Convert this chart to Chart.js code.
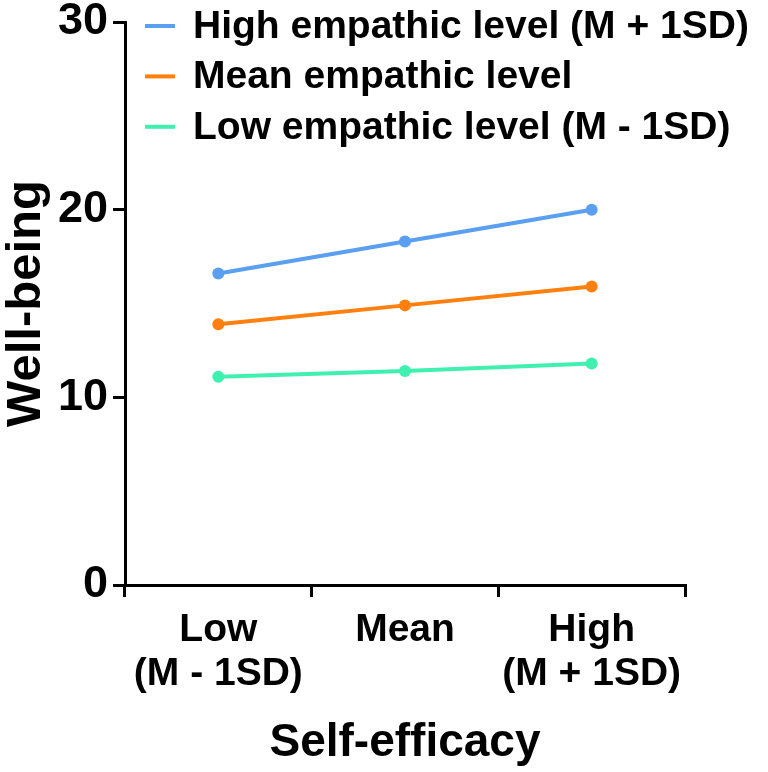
<!DOCTYPE html>
<html>
<head>
<meta charset="utf-8">
<script src="https://cdn.jsdelivr.net/npm/chart.js@4.4.0/dist/chart.umd.min.js"></script>
<style>
html, body { margin: 0; padding: 0; background: #fff; }
#wrap { width: 768px; height: 772px; }
</style>
</head>
<body>
<div id="wrap"><canvas id="wellbeingChart"></canvas></div>
<script>
// self-efficacy levels on the x axis
let categories = [["Low", "(M - 1SD)"], ["Mean"], ["High", "(M + 1SD)"]];
let seriesNames = ["High empathic level (M + 1SD)", "Mean empathic level", "Low empathic level (M - 1SD)"];
let highEmpathy = [16.6, 18.3, 20.0];
let meanEmpathy = [13.9, 14.9, 15.9];
let lowEmpathy = [11.1, 11.4, 11.8];
let yTicks = [0, 10, 20, 30];

let colors = ["#5a9ff0", "#ff800e", "#3ff0b0"];
let fontFamily = "'Liberation Sans', Arial, sans-serif";

function makeSet(i, values) {
    return {
        label: seriesNames[i],
        data: values,
        borderColor: colors[i],
        backgroundColor: colors[i],
        borderWidth: 4,
        pointRadius: 6,
        pointHoverRadius: 6,
        pointBorderWidth: 0,
        fill: false,
        tension: 0,
    };
}

let chartData = {
    labels: categories,
    datasets: [
        makeSet(0, highEmpathy),
        makeSet(1, meanEmpathy),
        makeSet(2, lowEmpathy),
    ],
};

// legend drawn inside the plot, top right, one row per series
let insideLegend = {
    id: "insideLegend",
    afterDraw(chart) {
        let ctx = chart.ctx;
        ctx.save();
        ctx.font = "bold 39px " + fontFamily;
        ctx.textBaseline = "middle";
        ctx.textAlign = "left";
        chart.data.datasets.forEach(function(ds, i) {
            let y = 26 + i * 50.4;
            ctx.strokeStyle = ds.borderColor;
            ctx.lineWidth = 4;
            ctx.beginPath();
            ctx.moveTo(145, y);
            ctx.lineTo(175, y);
            ctx.stroke();
            ctx.fillStyle = "#000";
            ctx.fillText(ds.label, 193, y + 1);
        });
        ctx.restore();
    },
};

let chartOptions = {
    responsive: true,
    maintainAspectRatio: false,
    animation: false,
    layout: {
        padding: { top: 22, right: 83, left: 0, bottom: 0 },
    },
    plugins: {
        legend: { display: false },
        tooltip: { enabled: false },
    },
    scales: {
        x: {
            type: "category",
            offset: true,
            afterFit: function(scale) {
                scale.height = 187;
                scale.paddingLeft = 0;
                scale.paddingRight = 0;
            },
            grid: {
                offset: true,
                drawOnChartArea: false,
                drawTicks: true,
                tickLength: 12,
                color: "#000",
                lineWidth: 3,
            },
            border: { color: "#000", width: 3 },
            ticks: {
                color: "#000",
                padding: 11,
                maxRotation: 0,
                autoSkip: false,
                font: { family: fontFamily, weight: "bold", size: 39, lineHeight: 1.13 },
            },
            title: {
                display: true,
                text: "Self-efficacy",
                color: "#000",
                padding: { top: 0, bottom: 1 },
                font: { family: fontFamily, weight: "bold", size: 46 },
            },
        },
        y: {
            min: 0,
            max: 30,
            afterFit: function(scale) {
                scale.width = 125;
                scale.paddingTop = 0;
                scale.paddingBottom = 0;
            },
            afterBuildTicks: function(scale) {
                scale.ticks = yTicks.map(function(v) {
                    return { value: v };
                });
            },
            grid: {
                drawOnChartArea: false,
                drawTicks: true,
                tickLength: 12,
                color: "#000",
                lineWidth: 3,
            },
            border: { color: "#000", width: 3 },
            ticks: {
                color: "#000",
                padding: 5,
                font: { family: fontFamily, weight: "bold", size: 45 },
            },
            title: {
                display: true,
                text: "Well-being",
                color: "#000",
                padding: { top: 0, bottom: 0 },
                font: { family: fontFamily, weight: "bold", size: 49, lineHeight: 1.1 },
            },
        },
    },
};

let chartCanvas = document.getElementById("wellbeingChart").getContext("2d");
new Chart(chartCanvas, {
    type: "line",
    data: chartData,
    options: chartOptions,
    plugins: [insideLegend],
});
</script>
</body>
</html>
